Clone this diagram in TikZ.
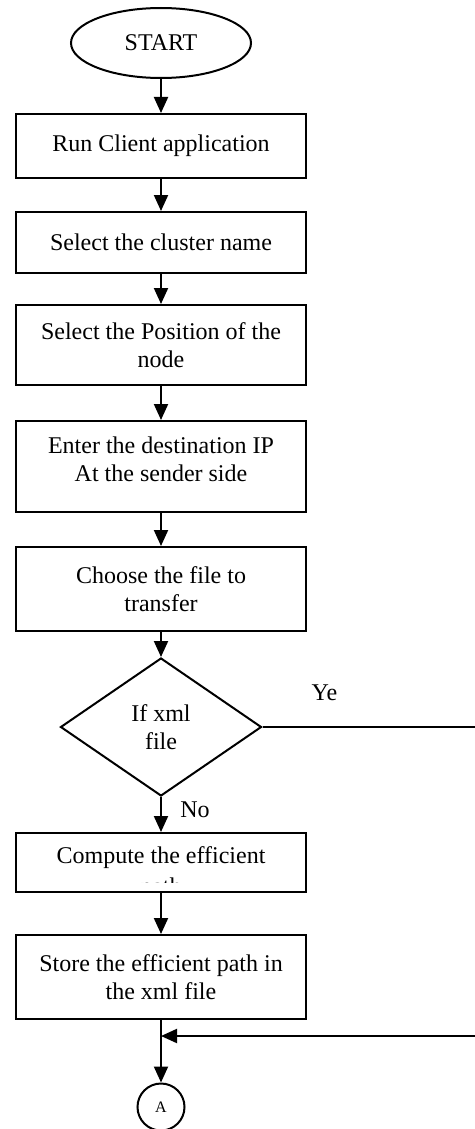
\documentclass[tikz,border=0pt]{standalone}
\usepackage{fontspec}
\setmainfont{Liberation Serif}
\usetikzlibrary{shapes.geometric,arrows.meta}
\begin{document}
\begin{tikzpicture}[x=0.5pt,y=-0.5pt,
  every node/.style={font=\fontsize{12}{14}\selectfont},
  proc/.style={draw,line width=1pt,rectangle,minimum width=145pt,inner sep=2pt,align=center},
  decision/.style={draw,line width=1pt,diamond,minimum width=100.5pt,minimum height=69pt,inner sep=0pt,align=center},
  terminal/.style={draw,line width=1pt,ellipse,minimum width=90pt,minimum height=35pt,inner sep=0pt},
  connector/.style={draw,line width=1pt,circle,minimum size=23.5pt,inner sep=0pt,font=\fontsize{8}{9}\selectfont},
  arr/.style={line width=1pt,-{Triangle[length=8pt,width=7pt]}}]
\useasboundingbox (0,0) rectangle (475,1129);

\node (start) [terminal] at (161,43) {START};
\node (b1) [proc,minimum height=32pt] at (161,146) {Run Client application};
\node (b2) [proc,minimum height=30.5pt] at (161,242.5) {Select the cluster name};
\node (b3) [proc,minimum height=40pt] at (161,345) {Select the Position of the\\node};
\node (b4) [proc,minimum height=45.5pt] at (161,466.5) {\raisebox{2.5pt}[\height][\depth]{\begin{tabular}{@{}c@{}}Enter the destination IP\\At the sender side\end{tabular}}};
\node (b5) [proc,minimum height=42pt] at (161,589) {Choose the file to\\transfer};
\node (dia) [decision] at (161,727) {If xml\\file};
\node (b6) [proc,minimum height=29.5pt] at (161,862.5) {\raisebox{2.25pt}[\height][\depth]{Compute the efficient}};
\begin{scope}
  \clip (16,868) rectangle (306,882.5);
  \node (b6p) [anchor=base] at (161,894) {path};
\end{scope}
\node (b7) [proc,minimum height=42pt] at (161,977) {Store the efficient path in\\the xml file};
\node (A) [connector] at (161,1107) {A};

\node (ye) at (324.5,693) {Ye};
\node (no) at (195,810) {No};

\coordinate (yr) at (478,727);
\coordinate (j) at (161,1036);

\draw[arr] (start) -- (b1);
\draw[arr] (b1) -- (b2);
\draw[arr] (b2) -- (b3);
\draw[arr] (b3) -- (b4);
\draw[arr] (b4) -- (b5);
\draw[arr] (b5) -- (dia);
\draw[arr] (dia) -- (b6);
\draw[arr] (b6) -- (b7);
\draw[arr] (dia.east) -- (yr) |- (j);
\draw[arr] (b7) -- (A);
\end{tikzpicture}
\end{document}
